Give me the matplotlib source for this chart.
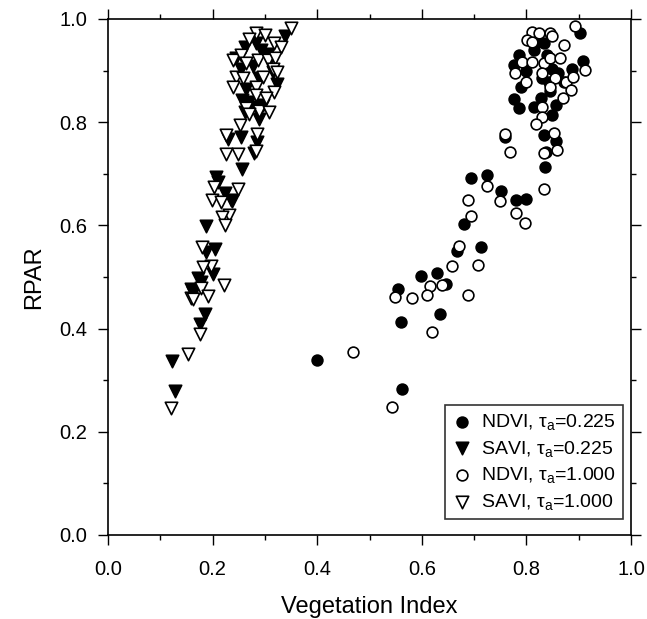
import numpy as np
import matplotlib
matplotlib.use('Agg')
import matplotlib.pyplot as plt
from matplotlib.ticker import MultipleLocator

plt.rcParams['font.family'] = ['Liberation Sans', 'DejaVu Sans']
plt.rcParams['mathtext.fontset'] = 'custom'
plt.rcParams['mathtext.rm'] = 'Liberation Sans'
plt.rcParams['mathtext.it'] = 'Liberation Sans'

### NDVI, tau_a = 0.225 (filled circles)
ndvi1_x = [0.902, 0.908, 0.786, 0.776, 0.789, 0.777, 0.786, 0.833, 0.821, 0.849, 0.887,
           0.871, 0.827, 0.814, 0.849, 0.856, 0.843, 0.815, 0.840, 0.860, 0.830, 0.800,
           0.845, 0.833, 0.857, 0.838, 0.836, 0.760, 0.725, 0.695, 0.751, 0.781, 0.800,
           0.681, 0.668, 0.714, 0.598, 0.630, 0.555, 0.646, 0.560, 0.634, 0.562, 0.400]
ndvi1_y = [0.972, 0.918, 0.930, 0.911, 0.869, 0.844, 0.827, 0.953, 0.956, 0.904, 0.904,
           0.878, 0.846, 0.830, 0.814, 0.833, 0.878, 0.940, 0.930, 0.895, 0.885, 0.900,
           0.860, 0.775, 0.763, 0.743, 0.713, 0.772, 0.697, 0.691, 0.667, 0.650, 0.652,
           0.602, 0.551, 0.558, 0.502, 0.508, 0.477, 0.487, 0.412, 0.429, 0.282, 0.340]

### SAVI, tau_a = 0.225 (filled triangles)
savi1_x = [0.339, 0.261, 0.293, 0.305, 0.283, 0.245, 0.254, 0.310, 0.277, 0.315, 0.324,
           0.264, 0.289, 0.256, 0.269, 0.267, 0.283, 0.296, 0.261, 0.289, 0.229, 0.254,
           0.284, 0.280, 0.256, 0.207, 0.210, 0.223, 0.235, 0.237, 0.188, 0.204, 0.188,
           0.200, 0.172, 0.178, 0.159, 0.163, 0.185, 0.176, 0.123, 0.128]
savi1_y = [0.968, 0.946, 0.940, 0.933, 0.953, 0.924, 0.904, 0.920, 0.908, 0.898, 0.875,
           0.865, 0.885, 0.843, 0.840, 0.827, 0.830, 0.833, 0.820, 0.807, 0.768, 0.772,
           0.761, 0.741, 0.709, 0.694, 0.685, 0.663, 0.649, 0.647, 0.599, 0.555, 0.548,
           0.506, 0.498, 0.490, 0.476, 0.469, 0.429, 0.409, 0.338, 0.280]

### NDVI, tau_a = 1.000 (open circles)
ndvi2_x = [0.892, 0.913, 0.810, 0.824, 0.846, 0.849, 0.802, 0.811, 0.871, 0.792, 0.811,
           0.833, 0.846, 0.865, 0.779, 0.800, 0.830, 0.854, 0.876, 0.889, 0.845, 0.886,
           0.870, 0.830, 0.830, 0.819, 0.760, 0.853, 0.859, 0.833, 0.768, 0.833, 0.725,
           0.749, 0.688, 0.781, 0.797, 0.695, 0.672, 0.657, 0.707, 0.616, 0.639, 0.549,
           0.582, 0.609, 0.688, 0.620, 0.543, 0.469]
ndvi2_y = [0.986, 0.902, 0.975, 0.973, 0.973, 0.967, 0.959, 0.956, 0.950, 0.917, 0.917,
           0.914, 0.924, 0.924, 0.895, 0.878, 0.895, 0.885, 0.878, 0.888, 0.869, 0.862,
           0.847, 0.830, 0.810, 0.797, 0.778, 0.780, 0.746, 0.741, 0.743, 0.671, 0.676,
           0.647, 0.650, 0.625, 0.605, 0.619, 0.560, 0.522, 0.524, 0.482, 0.485, 0.461,
           0.459, 0.465, 0.465, 0.393, 0.249, 0.354]

### SAVI, tau_a = 1.000 (open triangles)
savi2_x = [0.349, 0.283, 0.301, 0.270, 0.318, 0.331, 0.239, 0.254, 0.286, 0.305, 0.320,
           0.264, 0.315, 0.324, 0.245, 0.259, 0.296, 0.239, 0.283, 0.318, 0.283, 0.302,
           0.264, 0.289, 0.307, 0.270, 0.252, 0.226, 0.284, 0.226, 0.249, 0.283, 0.249,
           0.202, 0.199, 0.216, 0.232, 0.218, 0.223, 0.180, 0.197, 0.181, 0.221, 0.178,
           0.191, 0.158, 0.163, 0.176, 0.153, 0.121]
savi2_y = [0.983, 0.972, 0.969, 0.962, 0.953, 0.946, 0.920, 0.930, 0.920, 0.920, 0.925,
           0.914, 0.904, 0.898, 0.888, 0.885, 0.888, 0.869, 0.869, 0.859, 0.852, 0.846,
           0.827, 0.822, 0.820, 0.815, 0.794, 0.775, 0.778, 0.739, 0.739, 0.744, 0.670,
           0.675, 0.649, 0.645, 0.621, 0.616, 0.601, 0.558, 0.522, 0.519, 0.484, 0.478,
           0.463, 0.459, 0.458, 0.390, 0.351, 0.247]

fig = plt.figure(figsize=(6.47, 6.19), dpi=100)
ax = fig.add_axes([108/647, 1-535/619, 523/647, 516/619])

ax.scatter(ndvi1_x, ndvi1_y, s=60, marker='o', facecolor='black', edgecolor='black',
           linewidth=1.2, label=r'NDVI, $\mathrm{\tau_a}$=0.225', zorder=3)
ax.scatter(savi1_x, savi1_y, s=80, marker='v', facecolor='black', edgecolor='black',
           linewidth=1.2, label=r'SAVI, $\mathrm{\tau_a}$=0.225', zorder=3)
ax.scatter(ndvi2_x, ndvi2_y, s=60, marker='o', facecolor='white', edgecolor='black',
           linewidth=1.2, label=r'NDVI, $\mathrm{\tau_a}$=1.000', zorder=4)
ax.scatter(savi2_x, savi2_y, s=80, marker='v', facecolor='white', edgecolor='black',
           linewidth=1.2, label=r'SAVI, $\mathrm{\tau_a}$=1.000', zorder=4)

ax.set_xlim(0, 1)
ax.set_ylim(0, 1)
ax.xaxis.set_major_locator(MultipleLocator(0.2))
ax.xaxis.set_minor_locator(MultipleLocator(0.1))
ax.yaxis.set_major_locator(MultipleLocator(0.2))
ax.yaxis.set_minor_locator(MultipleLocator(0.1))
ax.tick_params(which='both', direction='out', top=True, right=True, width=1.0)
ax.tick_params(which='major', length=7, labelsize=14.5)
ax.tick_params(axis='x', which='major', pad=11)
ax.tick_params(axis='y', which='major', pad=8)
ax.tick_params(which='minor', length=3.5)
for sp in ax.spines.values():
    sp.set_linewidth(1.2)

ax.set_xlabel('Vegetation Index', fontsize=17, labelpad=12)
ax.set_ylabel('RPAR', fontsize=17, labelpad=10)

# legend box sits a little above the bottom axis, close to the right one
leg = ax.legend(loc='lower right', bbox_to_anchor=(1 - 8/523, 16/516),
                fontsize=14, frameon=True, fancybox=False,
                edgecolor='black', handletextpad=0.5, borderaxespad=0,
                labelspacing=0.35, handlelength=1.0, scatterpoints=1,
                borderpad=0.35)
leg.get_frame().set_linewidth(1.2)

plt.savefig('out.png', dpi=100)
